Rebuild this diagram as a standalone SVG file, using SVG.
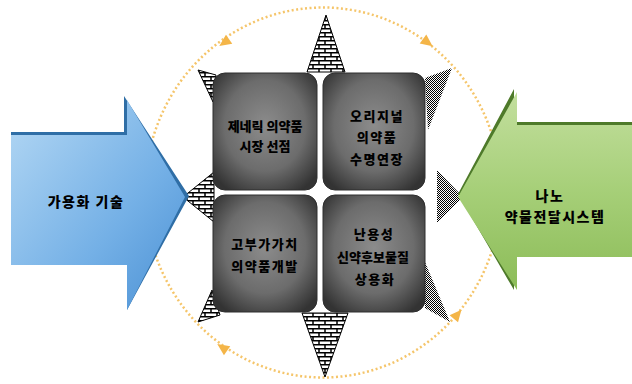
<svg xmlns="http://www.w3.org/2000/svg" width="632" height="384" viewBox="0 0 632 384">
<defs>
  <linearGradient id="gBlue" x1="0" y1="0" x2="1" y2="1">
    <stop offset="0" stop-color="#b4d8f4"/>
    <stop offset="0.6" stop-color="#74b0e6"/>
    <stop offset="1" stop-color="#4a90d4"/>
  </linearGradient>
  <linearGradient id="gGreen" x1="0" y1="0" x2="0" y2="1">
    <stop offset="0" stop-color="#c3df9e"/>
    <stop offset="0.5" stop-color="#a6cf78"/>
    <stop offset="1" stop-color="#8cbc58"/>
  </linearGradient>
  <radialGradient id="gBox" cx="0.5" cy="0.45" r="0.65">
    <stop offset="0" stop-color="#8c8c8c"/>
    <stop offset="0.6" stop-color="#6c6c6c"/>
    <stop offset="1" stop-color="#333333"/>
  </radialGradient>
  <pattern id="brick" width="12" height="8" patternUnits="userSpaceOnUse">
    <rect width="12" height="8" fill="#ffffff"/>
    <path d="M0 0.75H12M0 4.75H12M1 0.75V4.75M7 4.75V8" stroke="#000" stroke-width="1.5" fill="none"/>
  </pattern>
  <pattern id="dither" width="2" height="2" patternUnits="userSpaceOnUse">
    <rect width="2" height="2" fill="#ffffff"/>
    <rect width="1" height="1" fill="#000"/>
    <rect x="1" y="1" width="1" height="1" fill="#000"/>
  </pattern>
  <polygon id="oHead" points="7,0 -5,-5.5 -5,5.5"/>
</defs>
<style>
  .lbl { font-family: "Noto Sans CJK KR", "Liberation Sans", sans-serif; font-weight: 900; fill: #000; text-anchor: middle; dominant-baseline: central; }
  .box { fill: url(#gBox); stroke: #2e2e2e; stroke-width: 1; }
  .brk { fill: url(#brick); stroke: #000; stroke-width: 1; }
  .dth { fill: url(#dither); }
  .ring { fill: none; stroke: #f5c56a; stroke-width: 2.5; stroke-dasharray: 2 2.5; }
  .oh { fill: #f4b548; }
</style>
<rect width="632" height="384" fill="#ffffff"/>

<g id="connectors">
  <ellipse class="ring" cx="323" cy="192.5" rx="178" ry="185"/>
  <use href="#oHead" class="oh" transform="translate(225,42) rotate(145)"/>
  <use href="#oHead" class="oh" transform="translate(427,42) rotate(37)"/>
  <use href="#oHead" class="oh" transform="translate(223,348) rotate(-145)"/>
  <use href="#oHead" class="oh" transform="translate(457,315) rotate(-50)"/>
  <polygon class="brk" points="326,15 307,72 345,72"/>
  <polygon class="brk" points="302,313 348,313 325,377"/>
  <polygon class="brk" points="183,197 214,172 214,222"/>
  <polygon class="dth" points="437,170 437,223 463,197"/>
  <polygon class="brk" points="198,70 216,75 213,102"/>
  <polygon class="dth" points="425,78 452,68 428,130"/>
  <polygon class="brk" points="212,290 220,315 198,322"/>
  <polygon class="dth" points="425,262 450,322 425,308"/>
</g>

<g id="arrow-left">
  <polygon points="11,132 124,132 124,96 189,196 127,310 127,265 11,265" fill="#2f6ea6"/>
  <polygon points="11,135 127,135 127,100 185,197 127,310 127,265 11,265" fill="url(#gBlue)"/>
  <text class="lbl" x="86" y="201" font-size="14" letter-spacing="1.5">가용화 기술</text>
</g>

<g id="arrow-right">
  <polygon points="632,122 514,122 514,89 458,194 514,290 514,254 632,254" fill="#4e7a2a"/>
  <polygon points="632,125 517,125 517,92 458,197 517,290 517,257 632,257" fill="url(#gGreen)"/>
  <text class="lbl" x="550" y="195" font-size="14" letter-spacing="1.5">나노</text>
  <text class="lbl" x="555" y="216" font-size="14" letter-spacing="1.5">약물전달시스템</text>
</g>

<g id="box-tl">
  <rect class="box" x="213" y="73" width="104" height="117" rx="12"/>
  <text class="lbl" x="265" y="125" font-size="13">제네릭 의약품</text>
  <text class="lbl" x="265" y="145" font-size="13">시장 선점</text>
</g>
<g id="box-tr">
  <rect class="box" x="323" y="73" width="102" height="117" rx="12"/>
  <text class="lbl" x="377" y="115" font-size="13" letter-spacing="1.5">오리지널</text>
  <text class="lbl" x="377" y="136" font-size="13" letter-spacing="1.5">의약품</text>
  <text class="lbl" x="377" y="158" font-size="13" letter-spacing="1.5">수명연장</text>
</g>
<g id="box-bl">
  <rect class="box" x="213" y="195" width="104" height="117" rx="12"/>
  <text class="lbl" x="265" y="243" font-size="13" letter-spacing="1.5">고부가가치</text>
  <text class="lbl" x="265" y="265" font-size="13" letter-spacing="1.5">의약품개발</text>
</g>
<g id="box-br">
  <rect class="box" x="323" y="195" width="102" height="117" rx="12"/>
  <text class="lbl" x="374" y="233" font-size="13" letter-spacing="1.5">난용성</text>
  <text class="lbl" x="373" y="256" font-size="13">신약후보물질</text>
  <text class="lbl" x="375" y="278" font-size="13" letter-spacing="1.5">상용화</text>
</g>
</svg>
